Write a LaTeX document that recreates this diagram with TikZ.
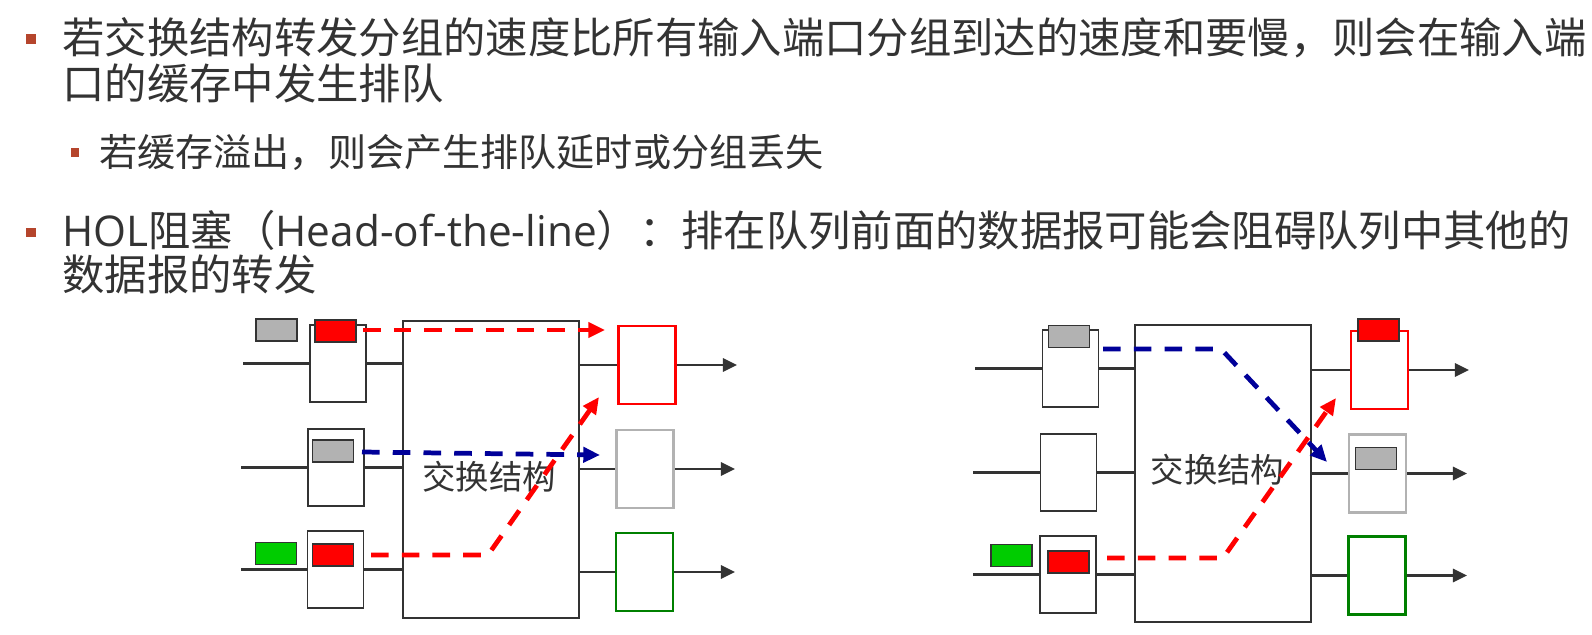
\documentclass[tikz,border=0pt]{standalone}
\usepackage{fontspec}
\setmainfont{Noto Sans CJK SC}
\newfontfamily\lat{Open Sans}
\usetikzlibrary{arrows.meta}
\definecolor{txt}{HTML}{333333}
\definecolor{bul}{HTML}{B5452C}
\definecolor{pgray}{HTML}{B2B2B2}
\definecolor{pgreen}{HTML}{00CC00}
\definecolor{dgreen}{HTML}{008000}
\definecolor{navy}{HTML}{000099}
\newlength{\pxu}\setlength{\pxu}{0.02cm}
\tikzset{
  lvla/.style={anchor=base west,inner sep=0pt,align=left,text=txt},
  lvlb/.style={anchor=base west,inner sep=0pt,text=txt,font=\fontsize{21.7pt}{24pt}\selectfont},
  bulsq/.style={fill=bul,draw=none,minimum size=5.4pt,inner sep=0pt},
  inbox/.style={draw=txt,line width=1.1pt,fill=white,minimum width=56\pxu,minimum height=77\pxu,inner sep=0pt},
  outbox/.style={line width=1.5pt,fill=white,minimum width=57\pxu,minimum height=78\pxu,inner sep=0pt},
  swbox/.style={draw=txt,line width=1.1pt,fill=white,minimum width=176\pxu,minimum height=297\pxu,inner sep=0pt},
  pkt/.style={draw=txt,line width=1.1pt,minimum width=41\pxu,minimum height=22\pxu,inner sep=0pt},
  wire/.style={draw=txt,line width=1.4pt},
  outarrow/.style={draw=txt,line width=1.4pt,-{Triangle[length=8pt,width=7.5pt]}},
  flow/.style={line width=2.7pt,dash pattern=on 10pt off 7.5pt,-{Triangle[length=9.5pt,width=8.5pt]}},
  swlabel/.style={text=txt,inner sep=0pt,font=\fontsize{19pt}{21pt}\selectfont}
}
\begin{document}
\begin{tikzpicture}[x=0.02cm,y=-0.02cm]
\useasboundingbox (0,0) rectangle (1592,635);
% ---- text ----
\node[bulsq] (b1) at (31,39) {};
\node[lvla,font=\fontsize{24.1pt}{26.2pt}\selectfont] (t1) at (62,100) {若交换结构转发分组的速度比所有输入端口分组到达的速度和要慢，则会在输入端\\口的缓存中发生排队};
\node[bulsq,minimum size=4.8pt] (b2) at (75,152.5) {};
\node[lvlb] (t3) at (99,166) {若缓存溢出，则会产生排队延时或分组丢失};
\node[bulsq] (b3) at (31,232.5) {};
\node[lvla,font=\fontsize{24.1pt}{24.5pt}\selectfont] (t4) at (62,290) {{\lat HOL}阻塞（{\lat Head-of-the-line}）：排在队列前面的数据报可能会阻碍队列中其他的\\数据报的转发};

% ================= left diagram =================
\node[swbox] (Lsw) at (491,469.5) {};
\node[swlabel] (Llab) at (489,477) {交换结构};
\node[inbox] (Li1) at (338,363.5) {};
\node[inbox] (Li2) at (336,467.5) {};
\node[inbox] (Li3) at (335.5,569.5) {};
\node[outbox,draw=red] (Lo1) at (647,365) {};
\node[outbox,draw=pgray] (Lo2) at (645,469) {};
\node[outbox,draw=dgreen] (Lo3) at (644.5,572) {};
% input wires
\coordinate (Lin1) at (243,363.5);
\coordinate (Lin2) at (241,467.5);
\coordinate (Lin3) at (241,569.5);
\draw[wire] (Lin1) -- (Li1.west);
\draw[wire] (Lin2) -- (Li2.west);
\draw[wire] (Lin3) -- (Li3.west);
\draw[wire] (Li1.east) -- (Lsw.west |- Li1.east);
\draw[wire] (Li2.east) -- (Lsw.west |- Li2.east);
\draw[wire] (Li3.east) -- (Lsw.west |- Li3.east);
\draw[wire] (Lsw.east |- Lo1.west) -- (Lo1.west);
\draw[wire] (Lsw.east |- Lo2.west) -- (Lo2.west);
\draw[wire] (Lsw.east |- Lo3.west) -- (Lo3.west);
\coordinate (Lend1) at (737,365);
\coordinate (Lend2) at (735,469);
\coordinate (Lend3) at (735,572);
\draw[outarrow] (Lo1.east) -- (Lend1);
\draw[outarrow] (Lo2.east) -- (Lend2);
\draw[outarrow] (Lo3.east) -- (Lend3);
% packets
\node[pkt,fill=pgray] (Lp1a) at (276.5,330) {};
\node[pkt,fill=red] (Lp1b) at (335.5,331) {};
\node[pkt,fill=pgray] (Lp2) at (333,451) {};
\node[pkt,fill=pgreen] (Lp3a) at (276,553.5) {};
\node[pkt,fill=red] (Lp3b) at (333,555) {};
% flows
\coordinate (Lf1s) at (363,330);
\coordinate (Lf1e) at (605,330);
\draw[flow,red] (Lf1s) -- (Lf1e);
\coordinate (Lf2s) at (362,452);
\coordinate (Lf2e) at (600,455);
\draw[flow,navy] (Lf2s) -- (Lf2e);
\coordinate (Lf3s) at (371,555);
\coordinate (Lf3m) at (488,555);
\coordinate (Lf3e) at (599,397);
\draw[flow,red] (Lf3s) -- (Lf3m) -- (Lf3e);

% ================= right diagram =================
\node[swbox] (Rsw) at (1223,473.5) {};
\node[swlabel] (Rlab) at (1217.5,470) {交换结构};
\node[inbox] (Ri1) at (1070.5,368.5) {};
\node[inbox] (Ri2) at (1068.5,472.5) {};
\node[inbox] (Ri3) at (1068,574.5) {};
\node[outbox,draw=red] (Ro1) at (1379.5,370) {};
\node[outbox,draw=pgray] (Ro2) at (1377.5,473.5) {};
\node[outbox,draw=dgreen] (Ro3) at (1377,575.5) {};
\coordinate (Rin1) at (975,368.5);
\coordinate (Rin2) at (973,472.5);
\coordinate (Rin3) at (973,574.5);
\draw[wire] (Rin1) -- (Ri1.west);
\draw[wire] (Rin2) -- (Ri2.west);
\draw[wire] (Rin3) -- (Ri3.west);
\draw[wire] (Ri1.east) -- (Rsw.west |- Ri1.east);
\draw[wire] (Ri2.east) -- (Rsw.west |- Ri2.east);
\draw[wire] (Ri3.east) -- (Rsw.west |- Ri3.east);
\draw[wire] (Rsw.east |- Ro1.west) -- (Ro1.west);
\draw[wire] (Rsw.east |- Ro2.west) -- (Ro2.west);
\draw[wire] (Rsw.east |- Ro3.west) -- (Ro3.west);
\coordinate (Rend1) at (1469,370);
\coordinate (Rend2) at (1467,473.5);
\coordinate (Rend3) at (1467,575.5);
\draw[outarrow] (Ro1.east) -- (Rend1);
\draw[outarrow] (Ro2.east) -- (Rend2);
\draw[outarrow] (Ro3.east) -- (Rend3);
% packets
\node[pkt,fill=pgray] (Rp1) at (1069,336.5) {};
\node[pkt,fill=pgreen] (Rp3a) at (1011.5,555.5) {};
\node[pkt,fill=red] (Rp3b) at (1068.5,562) {};
\node[pkt,fill=red] (Rpo1) at (1378.5,330) {};
\node[pkt,fill=pgray] (Rpo2) at (1376,458.5) {};
% flows
\coordinate (Rf1s) at (1103,349);
\coordinate (Rf1m) at (1221,349);
\coordinate (Rf1e) at (1327,462);
\draw[flow,navy] (Rf1s) -- (Rf1m) -- (Rf1e);
\coordinate (Rf2s) at (1107,558);
\coordinate (Rf2m) at (1223,558);
\coordinate (Rf2e) at (1336,398);
\draw[flow,red] (Rf2s) -- (Rf2m) -- (Rf2e);
\end{tikzpicture}
\end{document}
